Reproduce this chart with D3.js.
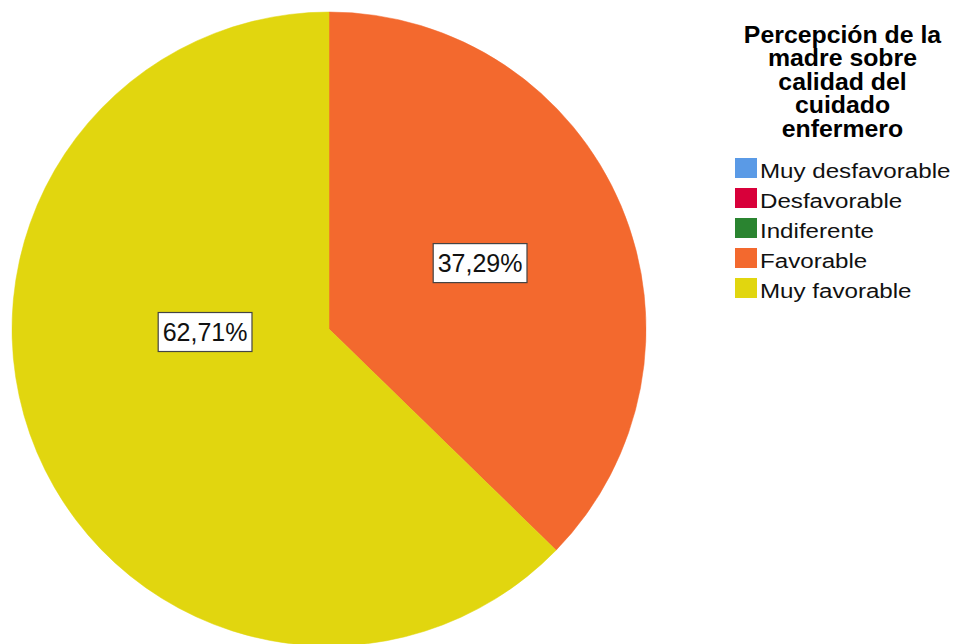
<!DOCTYPE html>
<html><head><meta charset="utf-8">
<script src="https://cdn.jsdelivr.net/npm/d3@7"></script>
<style>body{margin:0;background:#fff}svg{display:block}text{font-family:"Liberation Sans",Arial,sans-serif}</style>
</head><body>
<svg id="c" width="957" height="644"></svg>
<script>
const categories = ["Muy desfavorable","Desfavorable","Indiferente","Favorable","Muy favorable"];
const values = [0, 0, 0, 37.29, 62.71];
const colors = ["#5A9AE6","#D8003A","#2A8430","#F3692E","#E1D60F"];
const valueLabels = ["", "", "", "37,29%", "62,71%"];
const legendTitle = ["Percepción de la","madre sobre","calidad del","cuidado","enfermero"];

const svg = d3.select("#c");
const cx = 329, cy = 329, R = 317;
const color = d3.scaleOrdinal().domain(categories).range(colors);
const data = categories.map((c,i)=>({cat:c, v:values[i], label:valueLabels[i]}));
const pie = d3.pie().value(d=>d.v).sort(null).startAngle(0).endAngle(2*Math.PI);
const arcs = pie(data);
const arc = d3.arc().innerRadius(0).outerRadius(R);
const g = svg.append("g").attr("transform",`translate(${cx},${cy})`);
g.selectAll("path").data(arcs.filter(a=>a.data.v>0)).enter().append("path")
  .attr("d",arc).attr("fill",d=>color(d.data.cat))
  .attr("stroke",d=>color(d.data.cat)).attr("stroke-width",0.5);

// label placement (polar offsets relative to slice mid-angle)
const labelPlace = {"Favorable":{r:0.52, da:-0.012}, "Muy favorable":{r:0.391, da:0.375}};
arcs.filter(a=>a.data.v>0).forEach(a=>{
  const p = labelPlace[a.data.cat];
  const ang = (a.startAngle+a.endAngle)/2 + p.da;
  const x = Math.sin(ang)*R*p.r, y = -Math.cos(ang)*R*p.r;
  const lg = g.append("g").attr("transform",`translate(${x},${y})`);
  const t = lg.append("text").attr("text-anchor","middle").attr("y",9)
    .style("font-size","25px").attr("fill","#111").text(a.data.label);
  const bb = t.node().getBBox();
  lg.insert("rect","text").attr("x",bb.x-4.5).attr("y",-19.5).attr("width",bb.width+9).attr("height",39)
    .attr("fill","#fff").attr("stroke","#444").attr("stroke-width",1.2);
});

// legend
const lx = 842.5;
svg.append("text").attr("text-anchor","middle").style("font-size","23px").style("font-weight","bold")
  .attr("transform",`translate(${lx},0) scale(1.08,1)`)
  .selectAll("tspan").data(legendTitle).enter().append("tspan")
  .attr("x",0).attr("y",(d,i)=>43+i*23.5).text(d=>d);
const leg = svg.append("g").selectAll("g").data(categories).enter().append("g")
  .attr("transform",(d,i)=>`translate(735,${158+i*30})`);
leg.append("rect").attr("width",22).attr("height",20).attr("fill",d=>color(d));
leg.append("text").attr("transform","translate(25,20) scale(1.15,1)")
  .style("font-size","21px").attr("fill","#111").text(d=>d);
</script>
</body></html>
